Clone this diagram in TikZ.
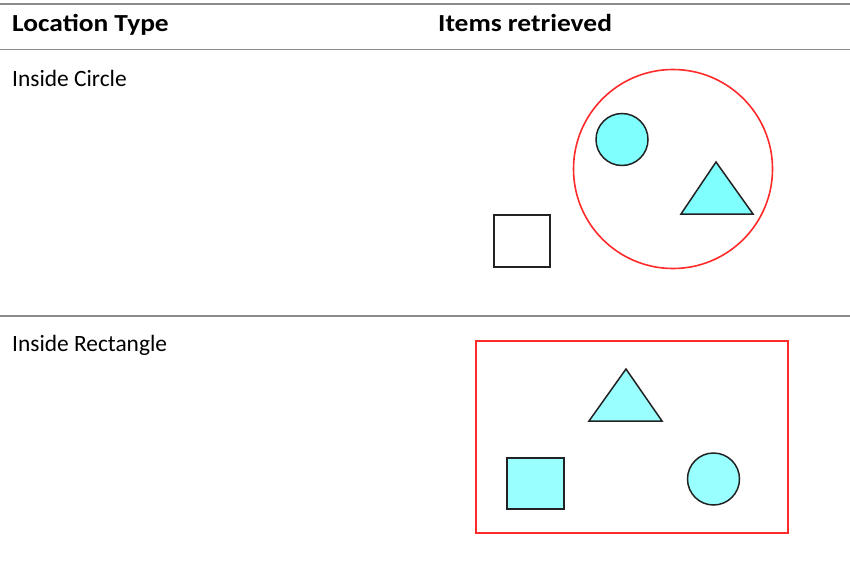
\documentclass[tikz,border=0pt]{standalone}
\usepackage{fontspec}
\setmainfont{Carlito}
\newfontfamily\hdrfont[FakeStretch=1.12]{Carlito Bold}
\definecolor{rule}{HTML}{8C8C8C}
\definecolor{selred}{HTML}{FF2A2A}
\definecolor{cyanA}{HTML}{80FFFF}
\definecolor{cyanB}{HTML}{99FFFF}
\definecolor{outline}{HTML}{222222}
\tikzset{
  rulestyle/.style={draw=rule, line width=1.6pt},
  selstyle/.style={draw=selred, line width=1.6pt},
  itemA/.style={draw=outline, fill=cyanA, line width=1.5pt, line join=miter},
  itemB/.style={draw=outline, fill=cyanB, line width=1.5pt, line join=miter},
  itemW/.style={draw=outline, fill=white, line width=1.5pt},
  txt/.style={anchor=base west, inner sep=0pt, font=\fontsize{23.4}{28}\selectfont},
  hdr/.style={anchor=base west, inner sep=0pt, font=\fontsize{24.5}{29}\hdrfont},
}
\begin{document}
\begin{tikzpicture}[x=1pt,y=-1pt]
\useasboundingbox (0,0) rectangle (850,578);
% rules
\coordinate (r1a) at (0,4);   \coordinate (r1b) at (850,4);
\coordinate (r2a) at (0,49.5); \coordinate (r2b) at (850,49.5);
\coordinate (r3a) at (0,316); \coordinate (r3b) at (850,316);
\draw[rulestyle] (r1a) -- (r1b);
\draw[rulestyle] (r2a) -- (r2b);
\draw[rulestyle] (r3a) -- (r3b);
% headers
\node[hdr] (h1) at (12,32) {Location Type};
\node[hdr] (h2) at (438,32) {Items retrieved};
% row labels
\node[txt] (l1) at (12,86) {Inside Circle};
\node[txt] (l2) at (12,351) {Inside Rectangle};
% row 1
\draw[selstyle] (673,169) circle (99.5);
\draw[itemA] (622,139.5) circle (26);
\draw[itemA] (716,162) -- (753,214) -- (681,214) -- cycle;
\draw[itemW] (494,215) rectangle (550,267);
% row 2
\draw[selstyle] (476,341) rectangle (788,533);
\draw[itemB] (626,369) -- (662,421) -- (589,421) -- cycle;
\draw[itemB] (507,458) rectangle (564,509);
\draw[itemB] (713.5,479) circle (26);
\end{tikzpicture}
\end{document}
